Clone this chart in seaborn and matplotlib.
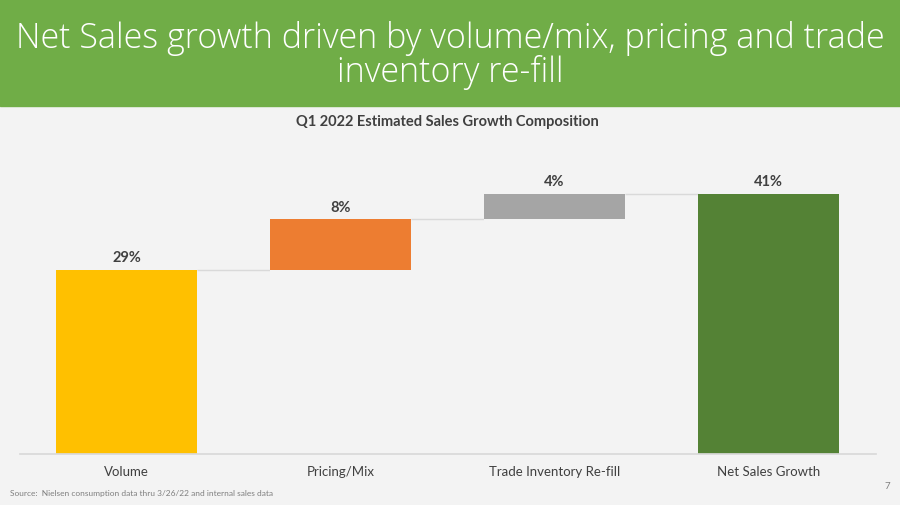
#!/usr/bin/env python3
"""Q1 2022 estimated sales growth composition - waterfall."""

import matplotlib
matplotlib.use("Agg")
import matplotlib.pyplot as plt
from matplotlib.patches import Rectangle
from matplotlib import font_manager
import numpy as np
import pandas as pd
import seaborn as sns

CATEGORIES = ["Volume", "Pricing/Mix", "Trade Inventory Re-fill", "Net Sales Growth"]
STEPS = [29, 8, 4]          # contributions, %
TOTAL = 41                  # net sales growth, %
VALUE_LABELS = ["29%", "8%", "4%", "41%"]
COLORS = ["#FFC000", "#ED7D31", "#A5A5A5", "#548235"]

BG = "#f3f3f3"
HEADER = "#70AD47"
TEXT = "#404040"


def pick(names):
    have = {f.name for f in font_manager.fontManager.ttflist}
    for n in names:
        if n in have:
            return n
    return "DejaVu Sans"


HEAD_FONT = pick(["Liberation Sans Narrow", "Open Sans", "DejaVu Sans"])
BODY_FONT = pick(["Lato", "Open Sans", "DejaVu Sans"])

sns.set_theme(style="white")
plt.rcParams["font.family"] = [BODY_FONT, "DejaVu Sans"]

# waterfall geometry from the data
bases = list(np.concatenate([[0], np.cumsum(STEPS)[:-1]])) + [0]
tops = list(np.cumsum(STEPS)) + [TOTAL]
df = pd.DataFrame({"cat": CATEGORIES, "base": bases, "top": tops})

fig = plt.figure(figsize=(9, 5.06), dpi=100, facecolor=BG)
fig.patches.append(Rectangle((0, 1 - 107 / 506), 1, 107 / 506,
                             transform=fig.transFigure, color=HEADER, zorder=0))
fig.text(0.5, 1 - 38 / 506, "Net Sales growth driven by volume/mix, pricing and trade",
         ha="center", va="center", color="white", fontsize=24.5, family=HEAD_FONT,
         fontweight="light")
fig.text(0.5, 1 - 73 / 506, "inventory re-fill",
         ha="center", va="center", color="white", fontsize=24.5, family=HEAD_FONT,
         fontweight="light")

ax = fig.add_axes([19.5 / 900, 51 / 506, 856 / 900, 304.3 / 506])
ax.set_facecolor(BG)

sns.barplot(data=df, x="cat", y="top", hue="cat", palette=COLORS, legend=False,
            width=0.66, saturation=1, linewidth=0, edgecolor="none", ax=ax, zorder=2)
sns.barplot(data=df, x="cat", y="base", color=BG, width=0.66, saturation=1,
            linewidth=0, edgecolor="none", ax=ax, zorder=3)

# connectors between bars
for i in range(len(CATEGORIES) - 1):
    ax.hlines(tops[i], i + 0.33, i + 1 - 0.33, color="#d9d9d9", lw=1, zorder=1)

for i, lab in enumerate(VALUE_LABELS):
    ax.text(i, tops[i] + 0.9, lab, ha="center", va="bottom", fontsize=10.5,
            fontweight="bold", color=TEXT, zorder=4)

ax.set_xlim(-0.5, 3.5)
ax.set_ylim(0, 48)
ax.set_yticks([])
ax.set_xlabel("")
ax.set_ylabel("")
for s in ["top", "left", "right"]:
    ax.spines[s].set_visible(False)
ax.spines["bottom"].set_color("#d9d9d9")
ax.spines["bottom"].set_zorder(5)
ax.tick_params(axis="x", length=0, pad=8, labelsize=9.5, labelcolor=TEXT)

ax.set_title("Q1 2022 Estimated Sales Growth Composition", fontsize=10.5,
             fontweight="bold", color=TEXT, y=1.0, pad=0)
ax.title.set_position((0.5, (506 - 122 - 51) / 304.3))
ax.title.set_va("center")

fig.text(10 / 900, 1 - 494 / 506,
         "Source:  Nielsen consumption data thru 3/26/22 and internal sales data",
         fontsize=6, color="#7f7f7f", va="center")
fig.text(887 / 900, 1 - 487 / 506, "7", fontsize=7, color="#7f7f7f",
         va="center", ha="center")

fig.savefig("out.png", dpi=100, facecolor=BG)
